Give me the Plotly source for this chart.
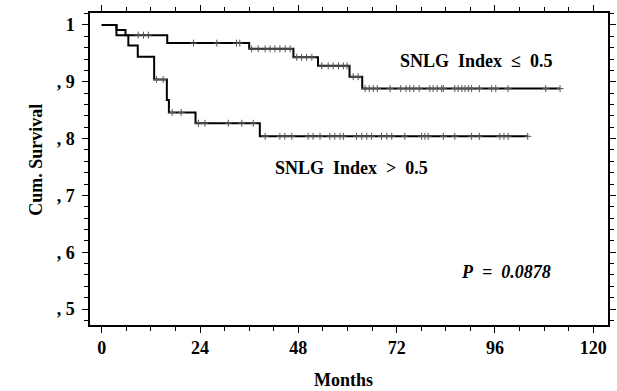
import plotly.graph_objects as go

# Kaplan-Meier step data (months, cumulative survival)
low_times = [0, 3.6, 5.8, 16.0, 36.0, 46.8, 52.8, 60.5, 63.6, 111.9]
low_surv = [1.0, 0.991, 0.982, 0.968, 0.958, 0.943, 0.928, 0.909, 0.888, 0.888]
low_censor = [8.9, 10.2, 11.4, 22.4, 28.1, 32.9, 33.7,
              36.6, 38.2, 39.9, 41.1, 42.3, 43.5, 44.8, 46.0,
              47.6, 48.8, 50.0, 51.3,
              53.7, 55.3, 56.5, 57.8, 59.0, 59.9,
              61.4, 62.6,
              64.3, 65.3, 66.3, 67.3, 70.4, 73.0, 74.3, 75.2, 76.2, 77.5,
              80.1, 80.9, 81.9, 83.0, 83.4, 86.2, 87.0, 87.9, 88.7, 89.5,
              90.3, 92.2, 95.2, 96.2, 99.2, 108.4, 111.9]

high_times = [0, 3.6, 6.5, 8.8, 12.8, 15.9, 16.4, 22.9, 38.6, 104.0]
high_surv = [1.0, 0.982, 0.964, 0.944, 0.904, 0.868, 0.846, 0.827, 0.804, 0.804]
high_censor = [13.4, 15.0, 17.2, 19.4,
               23.6, 25.2, 30.9, 34.2, 37.0,
               39.9, 43.5, 44.7, 46.4, 50.4, 51.6, 53.3, 55.7, 56.9, 58.2,
               59.0, 62.2, 63.5, 64.7, 65.9, 68.3, 69.6, 70.8, 74.0, 78.1,
               78.9, 79.7, 83.4, 86.2, 90.3, 92.2, 97.2, 98.2, 99.2, 104.0]

x_ticks = [0, 24, 48, 72, 96, 120]
y_ticks = [0.5, 0.6, 0.7, 0.8, 0.9, 1.0]
y_ticktext = [", 5", ", 6", ", 7", ", 8", ", 9", "1"]


def step_value(times, surv, t):
    v = surv[0]
    for ti, si in zip(times, surv):
        if ti <= t:
            v = si
    return v


FONT = "Liberation Serif"
fig = go.Figure()

for times, surv, cens in [(low_times, low_surv, low_censor),
                          (high_times, high_surv, high_censor)]:
    fig.add_trace(go.Scatter(x=times, y=surv, mode="lines",
                             line=dict(color="black", width=2, shape="hv"),
                             showlegend=False, hoverinfo="skip"))
    fig.add_trace(go.Scatter(x=cens, y=[step_value(times, surv, c) for c in cens],
                             mode="markers",
                             marker=dict(symbol="cross-thin", size=5,
                                         line=dict(color="#555", width=1)),
                             showlegend=False, hoverinfo="skip"))

axis_common = dict(showline=True, linecolor="black", linewidth=1.5, mirror="ticks",
                   ticks="outside", ticklen=6, tickwidth=1.3, tickcolor="black",
                   showgrid=False, zeroline=False, automargin=False,
                   tickfont=dict(family=FONT, size=18, color="black"))

fig.update_xaxes(range=[-2.86, 123.6], tickvals=x_ticks,
                 ticktext=[f"<b>{v}</b>" for v in x_ticks],
                 minor=dict(ticks="outside", dtick=6, tick0=0, ticklen=4,
                            tickwidth=1, tickcolor="black"),
                 **axis_common)
fig.update_yaxes(range=[0.472, 1.021], tickvals=y_ticks,
                 ticktext=[f"<b>{t}</b>" for t in y_ticktext],
                 ticklabelstandoff=4,
                 minor=dict(ticks="outside", dtick=0.02, tick0=0.5, ticklen=4,
                            tickwidth=1, tickcolor="black"),
                 **axis_common)

anns = [
    dict(text="<b>SNLG\u00a0 Index\u00a0 \u2264\u00a0 0.5</b>", x=91.4, y=0.937,
         xref="x", yref="y"),
    dict(text="<b>SNLG\u00a0 Index\u00a0 >\u00a0 0.5</b>", x=61.0, y=0.748,
         xref="x", yref="y"),
    dict(text="<b><i>P\u00a0 =\u00a0 0.0878</i></b>", x=98.8, y=0.566,
         xref="x", yref="y"),
    dict(text="<b>Months</b>", x=0.49, y=-0.176, xref="paper", yref="paper"),
    dict(text="<b>Cum. Survival</b>", x=-0.104, y=0.53, xref="paper", yref="paper",
         textangle=-90),
]
for a in anns:
    fig.add_annotation(showarrow=False, xanchor="center", yanchor="middle",
                       font=dict(family=FONT, size=18, color="black"), **a)

fig.update_layout(width=617, height=391, margin=dict(l=90, r=9, t=13, b=66, pad=0),
                  plot_bgcolor="white", paper_bgcolor="white")

fig.write_html("out.html", config={"displayModeBar": False, "responsive": False},
               post_script="document.body.style.margin='0';document.body.style.overflow='hidden';")
